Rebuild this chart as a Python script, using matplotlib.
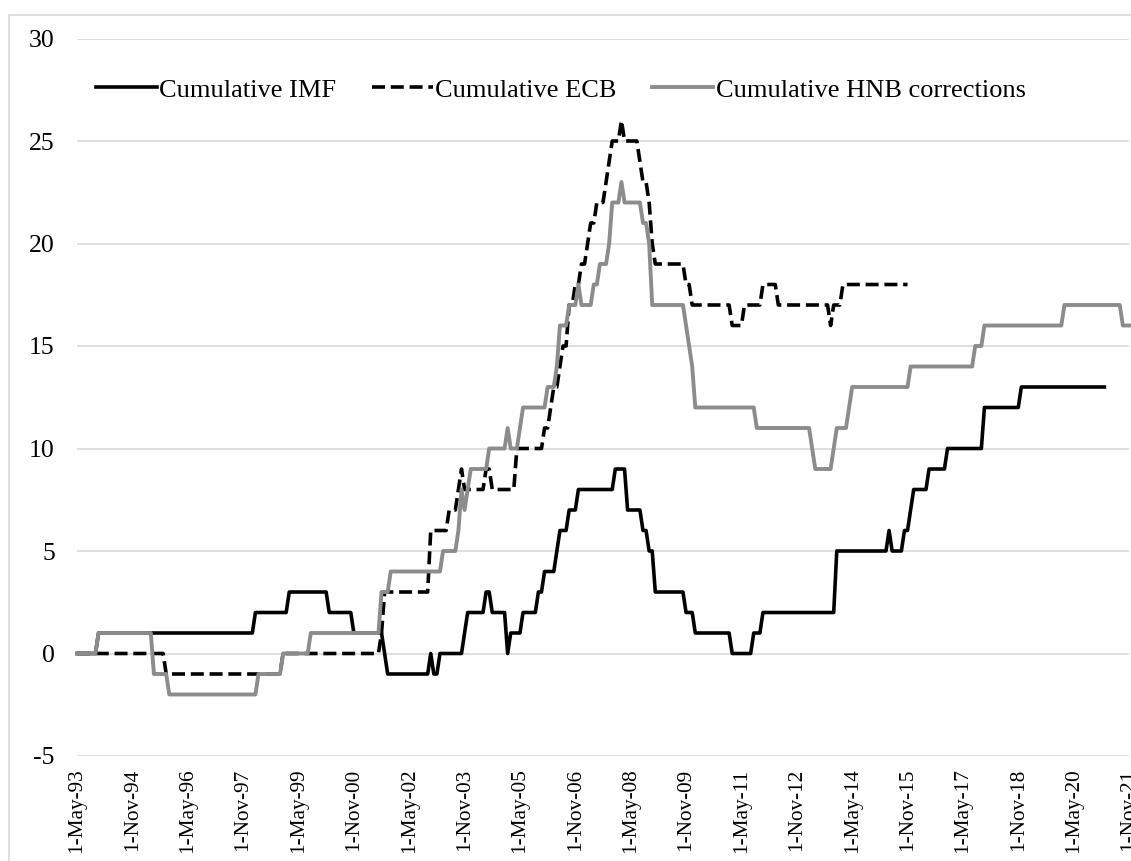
import numpy as np
import matplotlib
matplotlib.use("Agg")
import matplotlib.pyplot as plt
from matplotlib.patches import Rectangle

plt.rcParams['font.family'] = ['Liberation Serif', 'DejaVu Serif']
plt.rcParams['axes.unicode_minus'] = False

# Monthly series starting 1-May-93, stored as (value, number of months) runs
imf_runs = [(0, 7), (1, 51), (2, 11), (3, 13), (2, 8), (1, 10), (0, 1), (-1, 14),
            (0, 1), (-1, 2), (0, 8), (1, 1), (2, 6), (3, 2), (2, 5), (0, 1), (1, 4),
            (2, 5), (3, 2), (4, 4), (5, 1), (6, 3), (7, 3), (8, 12), (9, 4), (7, 5),
            (6, 2), (5, 2), (3, 10), (2, 3), (1, 12), (0, 7), (1, 3), (2, 24), (5, 17),
            (6, 1), (5, 4), (6, 2), (7, 1), (8, 5), (9, 6), (10, 12), (12, 12), (13, 28)]

ecb_runs = [(0, 29), (-1, 38), (0, 32), (1, 1), (3, 15), (6, 6), (7, 3), (8, 1),
            (9, 1), (8, 7), (9, 2), (8, 8), (10, 9), (11, 2), (12, 1), (13, 2), (14, 1),
            (15, 2), (17, 2), (18, 2), (19, 2), (20, 1), (21, 2), (22, 3), (23, 1),
            (24, 1), (25, 3), (26, 1), (25, 5), (24, 1), (23, 2), (22, 1), (20, 1),
            (19, 10), (18, 2), (17, 13), (16, 4), (17, 6), (18, 5), (17, 17), (16, 1),
            (17, 3), (18, 22)]

hnb_runs = [(0, 7), (1, 18), (-1, 5), (-2, 29), (-1, 8), (0, 9), (1, 23), (3, 3),
            (4, 17), (5, 5), (6, 1), (8, 1), (7, 1), (8, 1), (9, 6), (10, 6), (11, 1),
            (10, 3), (11, 1), (12, 8), (13, 3), (14, 1), (16, 3), (17, 3), (18, 1),
            (17, 4), (18, 2), (19, 3), (20, 1), (22, 3), (23, 1), (22, 6), (21, 2),
            (20, 1), (17, 11), (16, 1), (15, 1), (14, 1), (12, 20), (11, 18), (10, 1),
            (9, 6), (10, 1), (11, 4), (12, 1), (13, 19), (14, 21), (15, 3), (16, 26),
            (17, 19), (16, 3)]

tick_labels = ['1-May-93', '1-Nov-94', '1-May-96', '1-Nov-97', '1-May-99', '1-Nov-00',
               '1-May-02', '1-Nov-03', '1-May-05', '1-Nov-06', '1-May-08', '1-Nov-09',
               '1-May-11', '1-Nov-12', '1-May-14', '1-Nov-15', '1-May-17', '1-Nov-18',
               '1-May-20', '1-Nov-21']
series_names = ['Cumulative IMF', 'Cumulative ECB', 'Cumulative HNB corrections']


def expand(runs):
    vals = np.concatenate([np.full(n, v, dtype=float) for v, n in runs])
    return np.arange(len(vals)), vals


W, H = 1131, 861
fig = plt.figure(figsize=(W / 100, H / 100), dpi=100)
ax = fig.add_axes([77 / W, (H - 756) / H, (1129 - 77) / W, (756 - 38.5) / H])

x1, y1 = expand(imf_runs)
x2, y2 = expand(ecb_runs)
x3, y3 = expand(hnb_runs)

ax.plot(x1, y1, color='black', lw=2.6, label=series_names[0], zorder=3, clip_on=False)
ax.plot(x2, y2, color='black', lw=2.6, dashes=(3.6, 1.6), label=series_names[1],
        zorder=4, clip_on=False)
ax.plot(x3, y3, color='#8c8c8c', lw=2.8, label=series_names[2], zorder=5, clip_on=False)

ax.set_xlim(0, 342)
ax.set_ylim(-5, 30)
ax.set_yticks(np.arange(-5, 31, 5))
ax.set_xticks(np.arange(0, 18 * len(tick_labels), 18))
ax.set_xticklabels(tick_labels, rotation=90, fontsize=15.3)
for lab in ax.get_yticklabels():
    lab.set_fontsize(18.5)
ax.tick_params(axis='both', length=0)
ax.tick_params(axis='x', pad=9)
ax.tick_params(axis='y', pad=16)
ax.yaxis.grid(True, color='#d9d9d9', lw=1.2)
ax.set_axisbelow(True)
for s in ax.spines.values():
    s.set_visible(False)

leg = ax.legend(loc='center left', bbox_to_anchor=((96 - 77) / (1129 - 77), (756 - 90) / (756 - 38.5)),
                ncol=3, frameon=False, fontsize=19, handlelength=2.3, handletextpad=0.1,
                columnspacing=1.35, borderpad=0, borderaxespad=0)

fig.patches.append(Rectangle((9 / W, -0.1), 2, 1.1 - 15 / H, transform=fig.transFigure,
                             fill=False, edgecolor='#d9d9d9', lw=1.2))

fig.savefig('out.png', dpi=100)
